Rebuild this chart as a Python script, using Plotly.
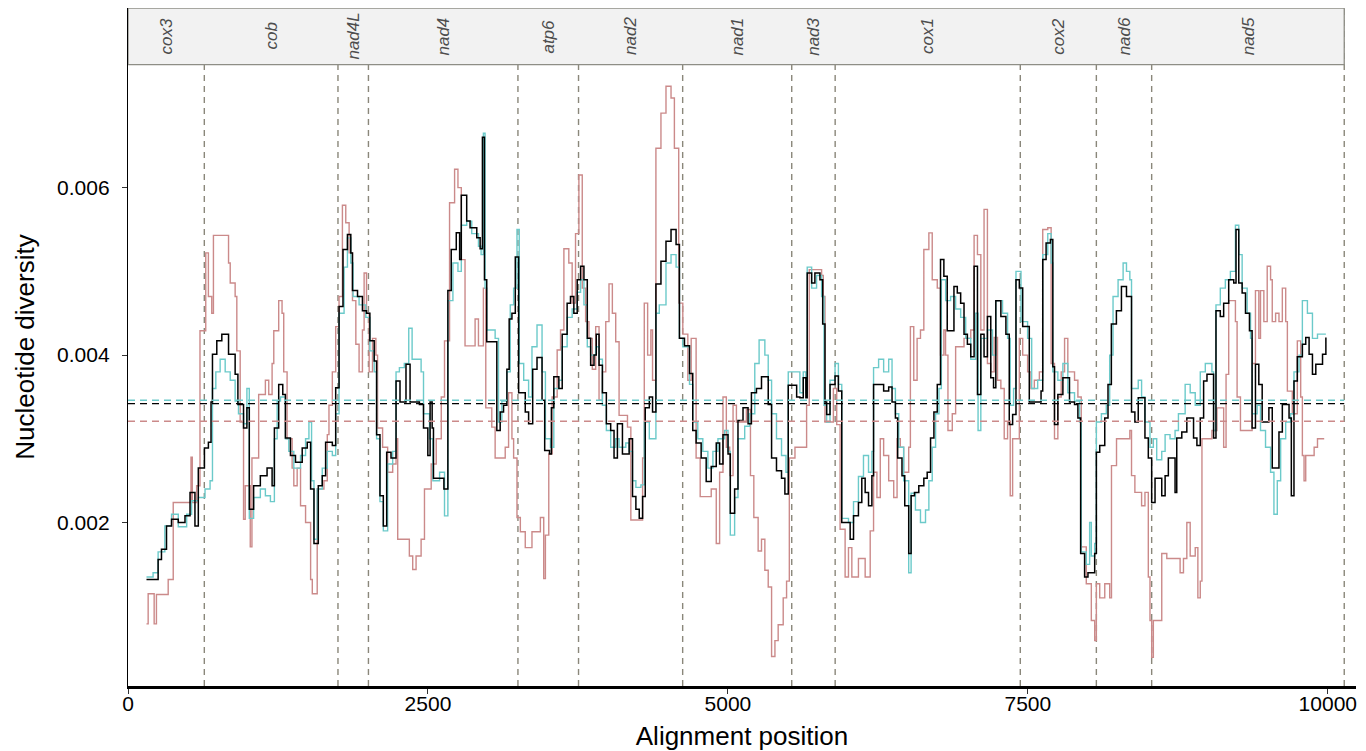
import plotly.graph_objects as go

# ---------------- data ----------------
GENES = ["cox3", "cob", "nad4L", "nad4", "atp6", "nad2", "nad1",
         "nad3", "cox1", "cox2", "nad6", "nad5"]
GENE_BOUNDS = [0, 636, 1750, 2004, 3250, 3755, 4623, 5532, 5894,
               7437, 8071, 8532, 10137]

X_TICKS = [0, 2500, 5000, 7500, 10000]
Y_TICKS = [0.002, 0.004, 0.006]

MEAN_BLACK = 0.00342
MEAN_CYAN = 0.00346
MEAN_PINK = 0.00321

BLACK_X = [154, 251, 279, 321, 363, 419, 475, 517, 558, 586, 637, 670, 692, 704, 740, 782, 838, 893, 916, 963,
           991, 1011, 1047, 1103, 1159, 1201, 1220, 1256, 1290, 1312, 1354, 1396, 1452, 1494, 1522, 1550, 1586,
           1619, 1647, 1703, 1731, 1759, 1792, 1829, 1857, 1871, 1913, 1954, 1988, 2016, 2052, 2072, 2100, 2128,
           2156, 2192, 2234, 2267, 2317, 2351, 2429, 2463, 2499, 2518, 2535, 2546, 2633, 2666, 2694, 2736, 2764,
           2778, 2823, 2851, 2907, 2935, 2954, 2971, 2990, 3074, 3102, 3130, 3158, 3177, 3200, 3228, 3256, 3311,
           3339, 3373, 3409, 3451, 3473, 3513, 3529, 3549, 3591, 3619, 3660, 3688, 3716, 3744, 3772, 3800, 3828,
           3856, 3884, 3903, 3926, 3954, 3987, 4023, 4051, 4079, 4121, 4177, 4205, 4233, 4261, 4289, 4311, 4345,
           4372, 4400, 4442, 4484, 4526, 4568, 4596, 4638, 4680, 4707, 4735, 4777, 4819, 4861, 4903, 4931, 4959,
           5001, 5020, 5056, 5084, 5126, 5168, 5196, 5238, 5280, 5336, 5364, 5405, 5447, 5475, 5503, 5573, 5600,
           5628, 5650, 5661, 5698, 5725, 5767, 5790, 5809, 5823, 5851, 5893, 5921, 5949, 6019, 6047, 6088, 6116,
           6144, 6172, 6200, 6214, 6298, 6340, 6368, 6396, 6415, 6451, 6474, 6507, 6527, 6555, 6591, 6633, 6661,
           6689, 6717, 6745, 6772, 6800, 6828, 6884, 6912, 6940, 6968, 6996, 7024, 7052, 7080, 7108, 7135, 7163,
           7191, 7214, 7233, 7275, 7317, 7345, 7373, 7401, 7429, 7457, 7512, 7610, 7624, 7652, 7688, 7708, 7722,
           7750, 7792, 7847, 7889, 7917, 7940, 7973, 8001, 8057, 8071, 8099, 8141, 8168, 8196, 8238, 8280, 8322,
           8364, 8392, 8420, 8476, 8504, 8532, 8560, 8616, 8644, 8671, 8727, 8741, 8783, 8825, 8881, 8909, 8937,
           8965, 8993, 9048, 9068, 9104, 9132, 9174, 9216, 9235, 9258, 9286, 9314, 9347, 9369, 9397, 9425, 9453,
           9509, 9537, 9593, 9621, 9677, 9696, 9718, 9746, 9788, 9816, 9844, 9872, 9900, 9956, 9984]
BLACK_Y = [0.00132, 0.00156, 0.00168, 0.00196, 0.00204, 0.00200, 0.00208, 0.00236, 0.00196, 0.00265, 0.00289,
           0.00296, 0.00344, 0.00401, 0.00417, 0.00425, 0.00401, 0.00377, 0.00341, 0.00313, 0.00337, 0.00216,
           0.00244, 0.00256, 0.00265, 0.00244, 0.00313, 0.00365, 0.00353, 0.00301, 0.00280, 0.00272, 0.00289,
           0.00296, 0.00240, 0.00175, 0.00244, 0.00256, 0.00296, 0.00292, 0.00361, 0.00458, 0.00526, 0.00544,
           0.00522, 0.00477, 0.00470, 0.00453, 0.00450, 0.00417, 0.00393, 0.00305, 0.00232, 0.00196, 0.00284,
           0.00277, 0.00369, 0.00344, 0.00389, 0.00344, 0.00341, 0.00313, 0.00280, 0.00344, 0.00313, 0.00253,
           0.00240, 0.00477, 0.00526, 0.00546, 0.00514, 0.00591, 0.00560, 0.00552, 0.00540, 0.00527, 0.00660,
           0.00490, 0.00416, 0.00310, 0.00332, 0.00340, 0.00383, 0.00443, 0.00450, 0.00517, 0.00355, 0.00332,
           0.00318, 0.00383, 0.00397, 0.00346, 0.00286, 0.00282, 0.00337, 0.00374, 0.00360, 0.00425, 0.00462,
           0.00470, 0.00450, 0.00490, 0.00506, 0.00490, 0.00420, 0.00388, 0.00400, 0.00425, 0.00388, 0.00355,
           0.00318, 0.00310, 0.00277, 0.00318, 0.00282, 0.00300, 0.00231, 0.00216, 0.00205, 0.00231, 0.00337,
           0.00350, 0.00332, 0.00485, 0.00512, 0.00536, 0.00550, 0.00532, 0.00420, 0.00411, 0.00378, 0.00310,
           0.00295, 0.00277, 0.00249, 0.00267, 0.00295, 0.00270, 0.00305, 0.00282, 0.00211, 0.00240, 0.00322,
           0.00337, 0.00318, 0.00355, 0.00360, 0.00374, 0.00341, 0.00277, 0.00262, 0.00253, 0.00234, 0.00364,
           0.00350, 0.00349, 0.00373, 0.00349, 0.00498, 0.00486, 0.00498, 0.00490, 0.00437, 0.00344, 0.00329,
           0.00365, 0.00375, 0.00357, 0.00200, 0.00180, 0.00208, 0.00224, 0.00253, 0.00236, 0.00220, 0.00256,
           0.00365, 0.00357, 0.00362, 0.00344, 0.00325, 0.00277, 0.00256, 0.00220, 0.00163, 0.00232, 0.00236,
           0.00244, 0.00253, 0.00260, 0.00301, 0.00332, 0.00365, 0.00514, 0.00494, 0.00429, 0.00482, 0.00474,
           0.00462, 0.00425, 0.00413, 0.00398, 0.00506, 0.00353, 0.00425, 0.00398, 0.00446, 0.00373, 0.00361,
           0.00465, 0.00446, 0.00425, 0.00317, 0.00329, 0.00490, 0.00480, 0.00434, 0.00344, 0.00357, 0.00514,
           0.00534, 0.00538, 0.00386, 0.00317, 0.00353, 0.00373, 0.00344, 0.00341, 0.00325, 0.00163, 0.00135,
           0.00140, 0.00163, 0.00284, 0.00292, 0.00325, 0.00365, 0.00437, 0.00453, 0.00482, 0.00470, 0.00332,
           0.00320, 0.00349, 0.00301, 0.00277, 0.00224, 0.00253, 0.00232, 0.00256, 0.00277, 0.00236, 0.00301,
           0.00308, 0.00325, 0.00301, 0.00292, 0.00325, 0.00369, 0.00377, 0.00301, 0.00453, 0.00446, 0.00462,
           0.00490, 0.00486, 0.00550, 0.00486, 0.00474, 0.00450, 0.00429, 0.00313, 0.00389, 0.00365, 0.00320,
           0.00337, 0.00265, 0.00308, 0.00341, 0.00325, 0.00232, 0.00369, 0.00398, 0.00413, 0.00421, 0.00401,
           0.00377, 0.00389, 0.00401, 0.00421]

CYAN_X = [154, 209, 251, 307, 363, 419, 489, 530, 586, 642, 684, 704, 732, 768, 810, 852, 893, 921, 963, 991,
          1011, 1047, 1103, 1145, 1187, 1220, 1243, 1271, 1312, 1340, 1382, 1438, 1480, 1508, 1530, 1550, 1577,
          1619, 1661, 1703, 1731, 1759, 1801, 1829, 1857, 1876, 1926, 1982, 2016, 2052, 2072, 2100, 2128, 2164,
          2206, 2234, 2262, 2303, 2340, 2368, 2443, 2463, 2513, 2541, 2597, 2638, 2666, 2708, 2750, 2778, 2823,
          2865, 2921, 2943, 2962, 2976, 2990, 3060, 3088, 3116, 3158, 3186, 3214, 3242, 3261, 3298, 3339, 3367,
          3409, 3451, 3479, 3521, 3549, 3591, 3619, 3660, 3702, 3744, 3772, 3800, 3828, 3856, 3898, 3926, 3954,
          3987, 4023, 4065, 4093, 4149, 4177, 4205, 4233, 4275, 4303, 4345, 4372, 4400, 4428, 4484, 4526, 4568,
          4596, 4624, 4680, 4707, 4749, 4791, 4833, 4875, 4917, 4973, 5001, 5020, 5056, 5084, 5140, 5182, 5224,
          5260, 5308, 5336, 5364, 5405, 5447, 5484, 5503, 5573, 5600, 5628, 5650, 5661, 5698, 5739, 5781, 5801,
          5823, 5851, 5893, 5921, 5949, 6005, 6047, 6088, 6130, 6172, 6200, 6214, 6256, 6298, 6340, 6368, 6396,
          6424, 6465, 6507, 6527, 6563, 6605, 6647, 6675, 6703, 6731, 6759, 6779, 6815, 6856, 6898, 6940, 6982,
          7024, 7066, 7085, 7108, 7163, 7205, 7233, 7289, 7331, 7353, 7381, 7401, 7443, 7498, 7532, 7582, 7624,
          7666, 7694, 7708, 7750, 7792, 7833, 7889, 7931, 7945, 7987, 8015, 8029, 8057, 8071, 8113, 8154, 8182,
          8210, 8252, 8294, 8322, 8350, 8364, 8420, 8448, 8476, 8518, 8546, 8574, 8616, 8644, 8685, 8727, 8755,
          8811, 8853, 8895, 8937, 8979, 9034, 9048, 9068, 9104, 9146, 9188, 9230, 9258, 9286, 9328, 9356, 9369,
          9411, 9439, 9481, 9523, 9551, 9579, 9607, 9649, 9690, 9718, 9760, 9788, 9830, 9872, 9914, 9984]
CYAN_Y = [0.00135, 0.00140, 0.00165, 0.00196, 0.00210, 0.00195, 0.00210, 0.00226, 0.00230, 0.00240, 0.00250,
          0.00360, 0.00380, 0.00395, 0.00380, 0.00370, 0.00345, 0.00330, 0.00318, 0.00360, 0.00205, 0.00230,
          0.00240, 0.00232, 0.00225, 0.00300, 0.00345, 0.00350, 0.00300, 0.00285, 0.00265, 0.00280, 0.00300,
          0.00320, 0.00250, 0.00180, 0.00240, 0.00265, 0.00285, 0.00280, 0.00330, 0.00450, 0.00505, 0.00540,
          0.00510, 0.00470, 0.00460, 0.00445, 0.00405, 0.00380, 0.00300, 0.00225, 0.00190, 0.00270, 0.00285,
          0.00380, 0.00385, 0.00390, 0.00432, 0.00395, 0.00380, 0.00330, 0.00300, 0.00250, 0.00260, 0.00208,
          0.00465, 0.00510, 0.00500, 0.00555, 0.00560, 0.00545, 0.00530, 0.00520, 0.00665, 0.00480, 0.00430,
          0.00420, 0.00320, 0.00345, 0.00380, 0.00460, 0.00480, 0.00550, 0.00390, 0.00370, 0.00350, 0.00410,
          0.00436, 0.00380, 0.00300, 0.00290, 0.00360, 0.00370, 0.00410, 0.00445, 0.00455, 0.00475, 0.00490,
          0.00460, 0.00410, 0.00400, 0.00410, 0.00395, 0.00340, 0.00310, 0.00290, 0.00300, 0.00290, 0.00295,
          0.00285, 0.00250, 0.00242, 0.00245, 0.00320, 0.00300, 0.00300, 0.00450, 0.00460, 0.00510, 0.00520,
          0.00505, 0.00420, 0.00410, 0.00365, 0.00320, 0.00300, 0.00285, 0.00265, 0.00285, 0.00300, 0.00310,
          0.00285, 0.00185, 0.00230, 0.00300, 0.00315, 0.00330, 0.00390, 0.00418, 0.00400, 0.00370, 0.00330,
          0.00300, 0.00280, 0.00260, 0.00380, 0.00380, 0.00355, 0.00380, 0.00355, 0.00505, 0.00480, 0.00495,
          0.00470, 0.00340, 0.00320, 0.00370, 0.00390, 0.00365, 0.00205, 0.00200, 0.00225, 0.00255, 0.00280,
          0.00260, 0.00285, 0.00385, 0.00395, 0.00380, 0.00395, 0.00360, 0.00330, 0.00290, 0.00250, 0.00140,
          0.00235, 0.00215, 0.00200, 0.00215, 0.00250, 0.00290, 0.00330, 0.00360, 0.00490, 0.00465, 0.00470,
          0.00455, 0.00445, 0.00420, 0.00395, 0.00450, 0.00310, 0.00420, 0.00430, 0.00400, 0.00465, 0.00450,
          0.00420, 0.00340, 0.00360, 0.00500, 0.00440, 0.00420, 0.00360, 0.00370, 0.00520, 0.00545, 0.00510,
          0.00380, 0.00370, 0.00390, 0.00355, 0.00345, 0.00320, 0.00165, 0.00150, 0.00200, 0.00160, 0.00175,
          0.00320, 0.00330, 0.00340, 0.00400, 0.00470, 0.00490, 0.00510, 0.00500, 0.00490, 0.00360, 0.00370,
          0.00350, 0.00320, 0.00290, 0.00300, 0.00275, 0.00285, 0.00305, 0.00300, 0.00310, 0.00330, 0.00365,
          0.00355, 0.00340, 0.00380, 0.00390, 0.00380, 0.00310, 0.00460, 0.00480, 0.00490, 0.00500, 0.00555,
          0.00520, 0.00480, 0.00450, 0.00420, 0.00330, 0.00340, 0.00310, 0.00290, 0.00260, 0.00210, 0.00250,
          0.00300, 0.00320, 0.00330, 0.00380, 0.00400, 0.00465, 0.00450, 0.00420, 0.00425, 0.00425]

PINK_X = [154, 168, 218, 237, 335, 377, 525, 536, 572, 600, 648, 670, 698, 712, 838, 852, 893, 907, 935, 963,
          977, 1019, 1033, 1089, 1145, 1173, 1201, 1215, 1256, 1284, 1298, 1326, 1368, 1382, 1410, 1438, 1480,
          1522, 1536, 1577, 1633, 1661, 1675, 1703, 1731, 1759, 1787, 1815, 1843, 1871, 1899, 1926, 1954, 1968,
          1988, 2010, 2038, 2066, 2080, 2122, 2164, 2206, 2234, 2248, 2345, 2373, 2401, 2443, 2471, 2527, 2569,
          2611, 2638, 2680, 2722, 2750, 2778, 2809, 2893, 2921, 2962, 2982, 3032, 3060, 3144, 3172, 3200, 3214,
          3242, 3270, 3311, 3367, 3437, 3465, 3479, 3507, 3535, 3577, 3605, 3633, 3674, 3702, 3730, 3758, 3786,
          3814, 3842, 3870, 3898, 3926, 3954, 3982, 4009, 4037, 4065, 4093, 4163, 4191, 4289, 4303, 4331, 4358,
          4372, 4400, 4442, 4484, 4526, 4554, 4590, 4624, 4666, 4694, 4735, 4769, 4861, 4903, 4931, 4959, 4987,
          5015, 5043, 5071, 5154, 5188, 5216, 5252, 5280, 5308, 5336, 5364, 5392, 5419, 5461, 5489, 5512, 5559,
          5656, 5678, 5781, 5795, 5809, 5879, 5907, 5935, 5977, 6005, 6033, 6088, 6144, 6186, 6214, 6242, 6270,
          6298, 6340, 6382, 6410, 6437, 6465, 6507, 6521, 6549, 6577, 6605, 6633, 6675, 6703, 6745, 6772, 6800,
          6814, 6834, 6870, 6898, 6968, 7024, 7052, 7080, 7108, 7135, 7163, 7191, 7219, 7247, 7275, 7303, 7331,
          7353, 7373, 7429, 7457, 7498, 7526, 7554, 7596, 7624, 7666, 7694, 7722, 7750, 7778, 7806, 7833, 7889,
          7917, 7945, 7987, 8029, 8057, 8071, 8099, 8141, 8182, 8197, 8239, 8350, 8364, 8392, 8448, 8476, 8504,
          8518, 8532, 8546, 8616, 8658, 8769, 8797, 8825, 8853, 8895, 8917, 8937, 8951, 9034, 9076, 9132, 9152,
          9174, 9230, 9244, 9272, 9369, 9397, 9425, 9439, 9467, 9495, 9523, 9537, 9565, 9593, 9621, 9649, 9663,
          9704, 9746, 9774, 9788, 9802, 9816, 9886, 9914, 9970]
PINK_Y = [0.00079, 0.00115, 0.00079, 0.00114, 0.00132, 0.00224, 0.00278, 0.00224, 0.00244, 0.00429, 0.00522,
          0.00470, 0.00450, 0.00543, 0.00510, 0.00486, 0.00470, 0.00405, 0.00320, 0.00204, 0.00244, 0.00171,
          0.00277, 0.00353, 0.00370, 0.00353, 0.00390, 0.00429, 0.00465, 0.00450, 0.00380, 0.00300, 0.00265,
          0.00244, 0.00265, 0.00220, 0.00200, 0.00132, 0.00115, 0.00240, 0.00250, 0.00305, 0.00340, 0.00380,
          0.00434, 0.00470, 0.00579, 0.00558, 0.00522, 0.00465, 0.00413, 0.00380, 0.00430, 0.00498, 0.00450,
          0.00380, 0.00420, 0.00400, 0.00313, 0.00290, 0.00260, 0.00270, 0.00300, 0.00180, 0.00160, 0.00144,
          0.00160, 0.00180, 0.00240, 0.00270, 0.00300, 0.00350, 0.00417, 0.00582, 0.00622, 0.00600, 0.00514,
          0.00411, 0.00443, 0.00411, 0.00480, 0.00337, 0.00314, 0.00277, 0.00290, 0.00355, 0.00300, 0.00277,
          0.00206, 0.00189, 0.00170, 0.00189, 0.00206, 0.00133, 0.00185, 0.00282, 0.00350, 0.00406, 0.00430,
          0.00527, 0.00510, 0.00462, 0.00545, 0.00615, 0.00480, 0.00440, 0.00420, 0.00383, 0.00434, 0.00346,
          0.00380, 0.00440, 0.00485, 0.00450, 0.00416, 0.00328, 0.00314, 0.00203, 0.00277, 0.00462, 0.00400,
          0.00430, 0.00370, 0.00647, 0.00689, 0.00721, 0.00707, 0.00647, 0.00462, 0.00425, 0.00370, 0.00420,
          0.00277, 0.00231, 0.00240, 0.00175, 0.00260, 0.00350, 0.00290, 0.00256, 0.00340, 0.00320, 0.00335,
          0.00256, 0.00206, 0.00166, 0.00180, 0.00143, 0.00123, 0.00040, 0.00059, 0.00078, 0.00110, 0.00130,
          0.00277, 0.00290, 0.00340, 0.00502, 0.00495, 0.00470, 0.00320, 0.00360, 0.00317, 0.00192, 0.00135,
          0.00170, 0.00135, 0.00157, 0.00135, 0.00190, 0.00260, 0.00230, 0.00300, 0.00280, 0.00250, 0.00230,
          0.00300, 0.00290, 0.00260, 0.00290, 0.00434, 0.00370, 0.00420, 0.00430, 0.00526, 0.00546, 0.00490,
          0.00480, 0.00400, 0.00430, 0.00400, 0.00310, 0.00330, 0.00410, 0.00420, 0.00430, 0.00543, 0.00520,
          0.00430, 0.00574, 0.00390, 0.00380, 0.00421, 0.00370, 0.00360, 0.00300, 0.00320, 0.00232, 0.00300,
          0.00420, 0.00400, 0.00380, 0.00360, 0.00370, 0.00380, 0.00550, 0.00552, 0.00390, 0.00300, 0.00350,
          0.00380, 0.00420, 0.00380, 0.00370, 0.00350, 0.00171, 0.00127, 0.00083, 0.00059, 0.00127, 0.00110,
          0.00127, 0.00110, 0.00268, 0.00300, 0.00310, 0.00256, 0.00236, 0.00220, 0.00236, 0.00135, 0.00083,
          0.00039, 0.00083, 0.00163, 0.00157, 0.00140, 0.00157, 0.00200, 0.00160, 0.00170, 0.00110, 0.00130,
          0.00300, 0.00310, 0.00337, 0.00290, 0.00377, 0.00465, 0.00440, 0.00350, 0.00310, 0.00390, 0.00477,
          0.00420, 0.00477, 0.00440, 0.00506, 0.00490, 0.00440, 0.00450, 0.00440, 0.00480, 0.00440, 0.00357,
          0.00330, 0.00417, 0.00350, 0.00280, 0.00250, 0.00280, 0.00290, 0.00300, 0.00300]

# ---------------- style ----------------
BLACK = "#000000"
CYAN = "#6CCACA"
PINK = "#CB8A8A"
GRID_DASH = "#8A877A"
FONT = "Liberation Sans, Arial, Helvetica, sans-serif"

X_RANGE = [0, 10235]
Y_RANGE = [0.000048, 0.008145]
STRIP_LO = 0.007468

fig = go.Figure()

for xs, ys, col, w in [(PINK_X, PINK_Y, PINK, 1.4),
                       (CYAN_X, CYAN_Y, CYAN, 1.4),
                       (BLACK_X, BLACK_Y, BLACK, 1.5)]:
    fig.add_trace(go.Scatter(x=xs, y=ys, mode="lines",
                             line=dict(shape="hv", color=col, width=w),
                             showlegend=False, hoverinfo="skip"))

for m, col in [(MEAN_CYAN, CYAN), (MEAN_BLACK, BLACK), (MEAN_PINK, PINK)]:
    fig.add_trace(go.Scatter(x=[GENE_BOUNDS[0], GENE_BOUNDS[-1]], y=[m, m], mode="lines",
                             line=dict(color=col, width=1.4, dash="7px,5px"),
                             showlegend=False, hoverinfo="skip"))

shapes = [dict(type="rect", xref="x", yref="y", x0=GENE_BOUNDS[0], x1=GENE_BOUNDS[-1],
               y0=STRIP_LO, y1=Y_RANGE[1], fillcolor="#F2F2F2",
               line=dict(color="#8E8E86", width=1.3), layer="below")]
for b in GENE_BOUNDS[1:]:
    shapes.append(dict(type="line", xref="x", yref="paper", x0=b, x1=b, y0=0, y1=1,
                       line=dict(color=GRID_DASH, width=1.4, dash="6px,5px"), layer="below"))

annotations = []
for i, g in enumerate(GENES):
    annotations.append(dict(x=(GENE_BOUNDS[i] + GENE_BOUNDS[i + 1]) / 2,
                            y=(STRIP_LO + Y_RANGE[1]) / 2, xref="x", yref="y",
                            text="<i>%s</i>" % g, textangle=-90, showarrow=False,
                            font=dict(family=FONT, size=17, color="#4D4D4D")))

# page body has an 8px margin; size the figure so the plot area lands at the same pixels
fig.update_layout(
    width=1358, height=743,
    margin=dict(l=120, r=10, t=0, b=65),
    plot_bgcolor="white", paper_bgcolor="white",
    font=dict(family=FONT, color="black"),
    shapes=shapes, annotations=annotations,
)
fig.update_xaxes(range=X_RANGE, tickvals=X_TICKS, ticktext=[str(v) for v in X_TICKS],
                 showgrid=False, zeroline=False, showline=True, linecolor="black", linewidth=2.5,
                 ticks="outside", ticklen=5, tickcolor="#333333", tickwidth=1.2,
                 ticklabelstandoff=-8,
                 tickfont=dict(size=21, color="black"),
                 title=dict(text="Alignment position", font=dict(size=26, color="black"), standoff=16))
fig.update_yaxes(range=Y_RANGE, tickvals=Y_TICKS, ticktext=["%.3f" % v for v in Y_TICKS],
                 showgrid=False, zeroline=False, showline=True, linecolor="black", linewidth=1.4,
                 ticks="outside", ticklen=5, tickcolor="#333333", tickwidth=1.2,
                 ticklabelstandoff=8,
                 tickfont=dict(size=21, color="black"),
                 title=dict(text="Nucleotide diversity", font=dict(size=26, color="black"), standoff=14))

fig.write_html("out.html")
